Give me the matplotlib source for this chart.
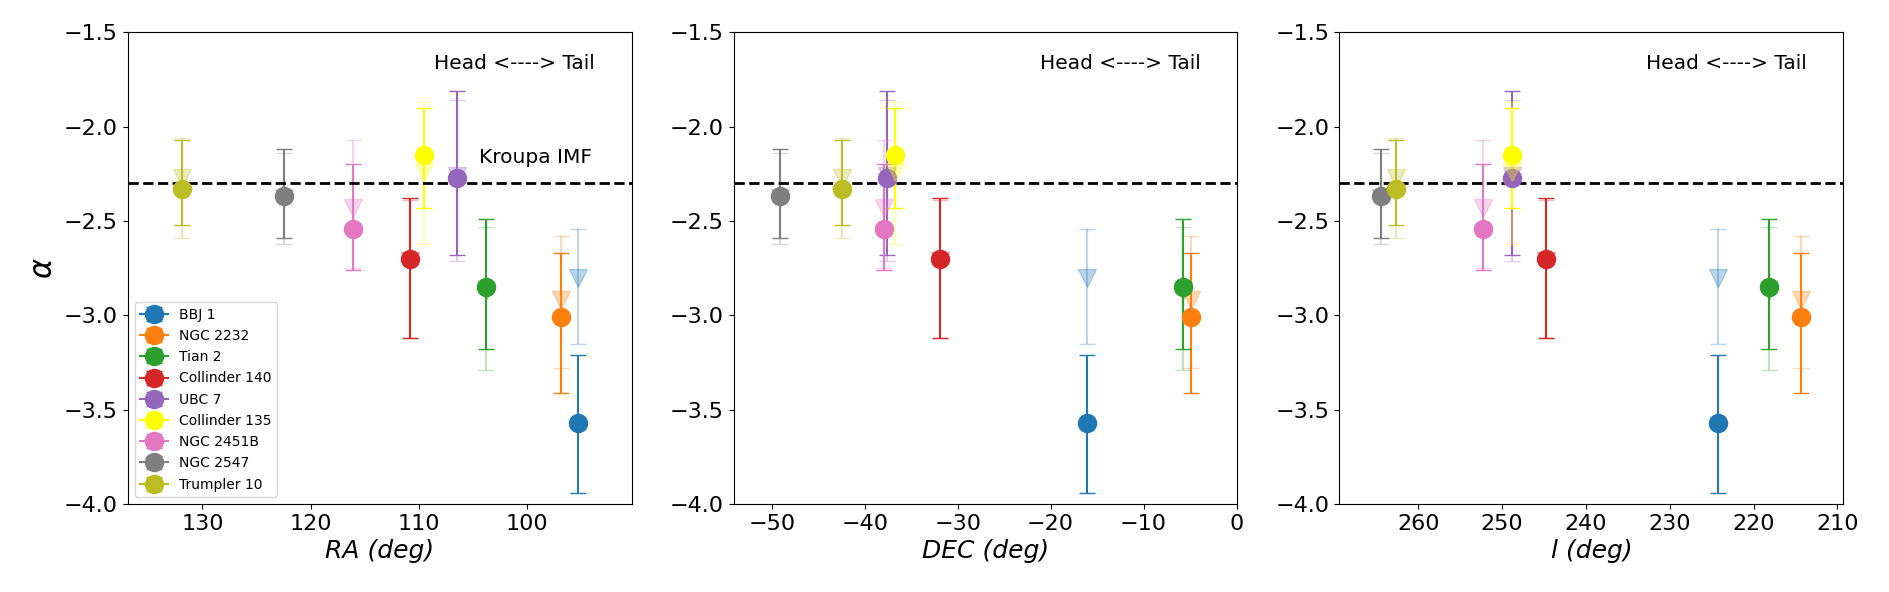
import numpy as np
import matplotlib.pyplot as plt

names = ['BBJ 1', 'NGC 2232', 'Tian 2', 'Collinder 140', 'UBC 7',
         'Collinder 135', 'NGC 2451B', 'NGC 2547', 'Trumpler 10']
colors = ['tab:blue', 'tab:orange', 'tab:green', 'tab:red', 'tab:purple',
          'yellow', 'tab:pink', 'tab:gray', 'tab:olive']

# positions of the clusters
ra = [95.3, 96.9, 103.8, 110.85, 106.5, 109.55, 116.1, 122.45, 131.9]
dec = [-16.05, -4.85, -5.8, -31.9, -37.65, -36.7, -37.9, -49.1, -42.45]
gl = [224.3, 214.3, 218.2, 244.8, 248.8, 248.8, 252.3, 264.4, 262.7]

# slope alpha (circles) with lower / upper limits
alpha_c = [-3.57, -3.01, -2.85, -2.70, -2.27, -2.15, -2.54, -2.37, -2.33]
alpha_c_lo = [-3.94, -3.41, -3.18, -3.12, -2.68, -2.43, -2.76, -2.59, -2.52]
alpha_c_hi = [-3.21, -2.67, -2.49, -2.38, -1.81, -1.90, -2.20, -2.12, -2.07]

# second estimate (faded triangles)
alpha_t = [-2.80, -2.92, -2.87, -2.71, -2.26, -2.24, -2.43, -2.38, -2.27]
alpha_t_lo = [-3.15, -3.28, -3.29, -3.12, -2.71, -2.62, -2.75, -2.62, -2.59]
alpha_t_hi = [-2.54, -2.58, -2.53, -2.39, -1.86, -1.87, -2.07, -2.14, -2.06]

kroupa = -2.3

fig, axes = plt.subplots(1, 3, figsize=(18.9, 5.92), dpi=100)
fig.subplots_adjust(left=0.0676, right=0.9753, bottom=0.1486, top=0.9454, wspace=0.2024)

xs = [ra, dec, gl]
xlabels = ['RA (deg)', 'DEC (deg)', 'l (deg)']
xlims = [(136.9, 90.35), (-54.1, 0.1), (269.4, 209.3)]

for ax, x, xl, lim in zip(axes, xs, xlabels, xlims):
    for i in range(len(names)):
        err_c = [[alpha_c[i] - alpha_c_lo[i]], [alpha_c_hi[i] - alpha_c[i]]]
        err_t = [[alpha_t[i] - alpha_t_lo[i]], [alpha_t_hi[i] - alpha_t[i]]]
        ax.errorbar([x[i]], [alpha_c[i]], yerr=err_c, marker='o', color=colors[i],
                    ms=13, capsize=6, label=names[i])
        ax.errorbar([x[i]], [alpha_t[i]], yerr=err_t, marker='v', color=colors[i],
                    ms=13, capsize=6, alpha=0.3)
    ax.axhline(kroupa, color='k', ls='--', lw=2)
    ax.set_xlim(lim)
    ax.set_ylim(-4.0, -1.5)
    ax.set_yticks(np.arange(-4.0, -1.49, 0.5))
    ax.tick_params(labelsize=16)
    ax.set_xlabel(xl, fontsize=18, fontstyle='italic')
    ax.text(0.927, 0.934, 'Head <----> Tail', transform=ax.transAxes,
            ha='right', va='center', fontsize=14.5)

axes[0].set_ylabel(r'$\alpha$', fontsize=22)
axes[0].text(0.922, -2.162, 'Kroupa IMF', transform=axes[0].get_yaxis_transform(),
             ha='right', va='center', fontsize=14.5)
axes[0].legend(loc='lower left', fontsize=10, labelspacing=0.52)

plt.savefig('out.png')
